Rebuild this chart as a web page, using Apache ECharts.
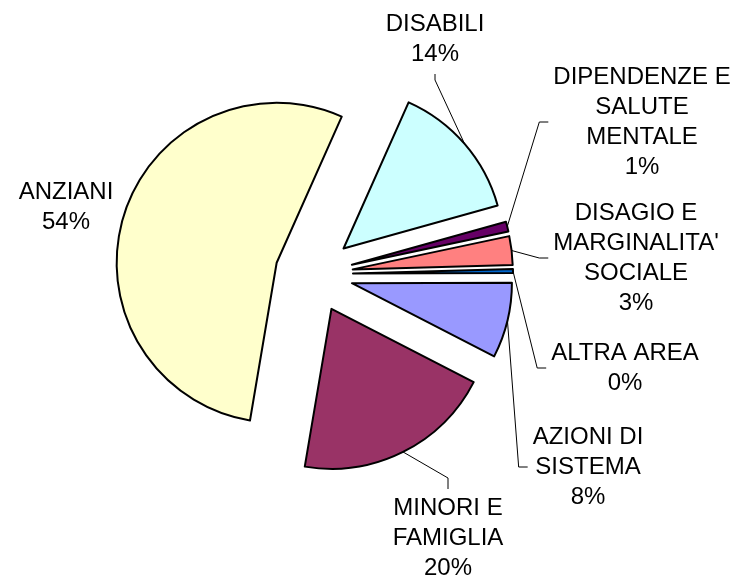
<!DOCTYPE html>
<html><head><meta charset="utf-8">
<script src="https://cdn.jsdelivr.net/npm/echarts@6/dist/echarts.min.js"></script>
<style>html,body{margin:0;padding:0;background:#fff}#c{width:736px;height:580px}</style>
</head><body><div id="c"></div>
<script>
// ---- data ----
const categories = ["DISABILI", "DIPENDENZE E\nSALUTE\nMENTALE", "DISAGIO E\nMARGINALITA'\nSOCIALE", "ALTRA AREA", "AZIONI DI\nSISTEMA", "MINORI E\nFAMIGLIA", "ANZIANI"];
const values = [14.0, 1.0, 2.9, 0.4, 7.6, 20.1, 54.0];
const colors = ["#CCFFFF", "#660066", "#FF8080", "#0066CC", "#9999FF", "#993366", "#FFFFCC"];

// ---- layout ----
const CX = 314, CY = 274, R = 160, EXPLODE = 39, START_ANGLE = 66;
// label block centre x, y and leader-line attachment side
const labelPos = [[435, 39, 'bottom'], [642, 122, 'left'], [636, 258, 'left'], [625, 368, 'left'], [588, 467, 'left'], [448, 538, 'top'], [66, 207, 'none']];

const total = values.reduce((a, b) => a + b, 0);
let cum = 0;
const series = categories.map((cat, i) => {
  const mid = (cum + values[i] / 2) / total;
  cum += values[i];
  const phi = ((90 - START_ANGLE) + mid * 360) * Math.PI / 180; // clockwise from top
  const cx = CX + EXPLODE * Math.sin(phi);
  const cy = CY - EXPLODE * Math.cos(phi);
  return {
    type: 'pie',
    center: [cx, cy],
    radius: [0, R],
    startAngle: START_ANGLE,
    clockwise: true,
    avoidLabelOverlap: false,
    percentPrecision: 0,
    silent: true,
    animation: false,
    emphasis: { disabled: true },
    data: categories.map((c, j) => ({
      name: c,
      value: values[j],
      itemStyle: j === i
        ? { color: colors[j], borderColor: '#000', borderWidth: 2 }
        : { color: 'rgba(0,0,0,0)', borderWidth: 0 },
      label: { show: j === i },
      labelLine: { show: j === i && labelPos[j][2] !== 'none' }
    })),
    label: {
      position: 'outside',
      formatter: '{b}\n{d}%',
      fontFamily: 'Liberation Sans, Arial, sans-serif',
      fontSize: 24,
      lineHeight: 30,
      color: '#000'
    },
    labelLine: {
      length: 10, length2: 10,
      lineStyle: { color: '#000', width: 1 }
    },
    labelLayout: function (params) {
      if (params.dataIndex !== params.seriesIndex) return {};
      const p = labelPos[params.seriesIndex];
      const w = params.labelRect.width, h = params.labelRect.height;
      const res = { x: p[0], y: p[1], align: 'center', verticalAlign: 'middle' };
      const pts = params.labelLinePoints;
      if (pts && p[2] !== 'none') {
        const a = pts[0];
        let end, knee;
        if (p[2] === 'left') { end = [p[0] - w / 2 - 5, p[1]]; knee = [end[0] - 9, p[1]]; }
        else if (p[2] === 'bottom') { end = [p[0], p[1] + h / 2 + 5]; knee = [p[0], end[1] + 6]; }
        else { end = [p[0], p[1] - h / 2 - 4]; knee = [p[0], end[1] - 11]; }
        res.labelLinePoints = [a, knee, end];
      }
      return res;
    }
  };
});

const chart = echarts.init(document.getElementById('c'), null, { renderer: 'canvas' });
chart.setOption({ backgroundColor: '#fff', animation: false, series: series });
</script>
</body></html>
